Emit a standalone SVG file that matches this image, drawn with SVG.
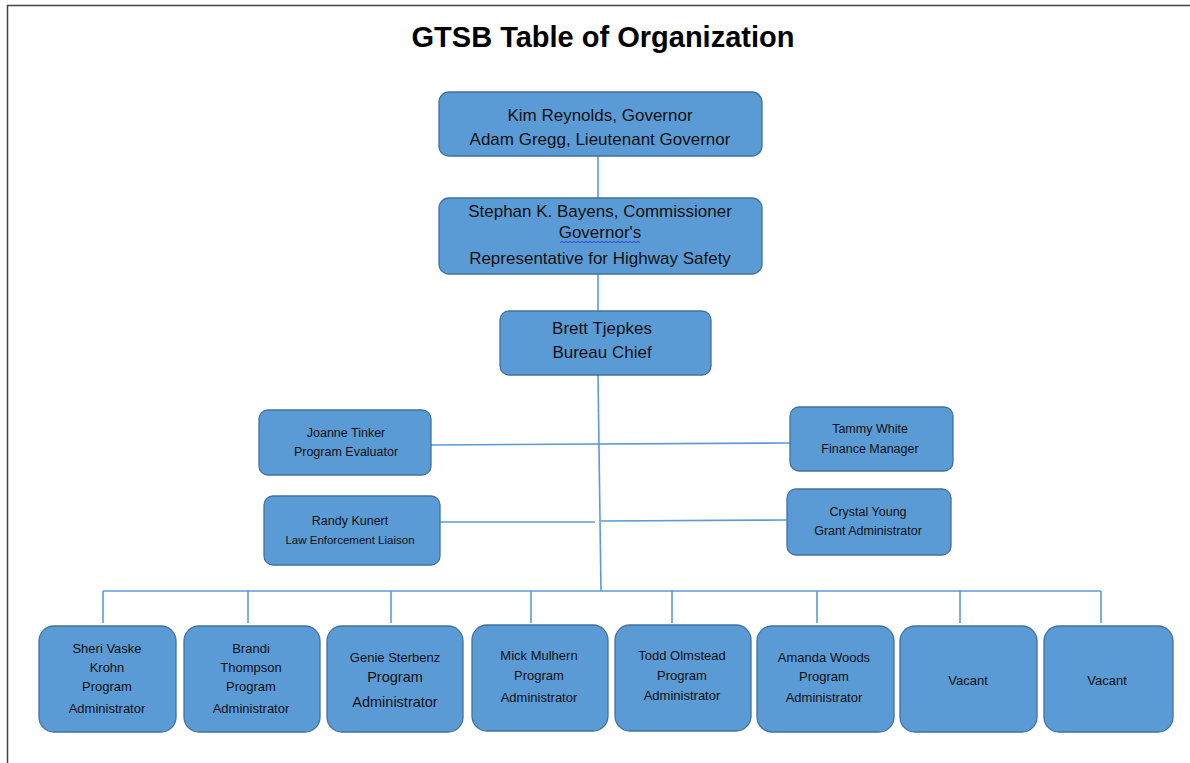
<svg xmlns="http://www.w3.org/2000/svg" width="1190" height="763" viewBox="0 0 1190 763">
<style>
.box{fill:#5b9bd5;stroke:#41719c;stroke-width:1.3}
.t{font-family:"Liberation Sans",Arial,sans-serif;fill:#111;text-anchor:middle}
.big{font-size:17px}
.mid{font-size:12.5px}
.sm{font-size:13px}
.c{stroke:#5b9bd5;stroke-width:1.6;fill:none}
</style>
<rect width="1190" height="763" fill="#fff"/>
<path d="M7.5 763 V5.5 H1190" fill="none" stroke="#444" stroke-width="1.5"/>
<text x="603" y="47" font-family="Liberation Sans,Arial,sans-serif" font-weight="bold" font-size="29" text-anchor="middle" fill="#000">GTSB Table of Organization</text>
<g id="connectors">
<line class="c" x1="598" y1="156" x2="598" y2="198"/>
<line class="c" x1="598" y1="274" x2="598" y2="311"/>
<line class="c" x1="598" y1="375" x2="601" y2="591"/>
<line class="c" x1="431" y1="445" x2="790" y2="443"/>
<line class="c" x1="440" y1="522" x2="595" y2="522"/>
<line class="c" x1="601" y1="521" x2="787" y2="520"/>
<line class="c" x1="103" y1="591" x2="1101" y2="591"/>
<line class="c" x1="103" y1="591" x2="103" y2="623"/>
<line class="c" x1="248" y1="591" x2="248" y2="623"/>
<line class="c" x1="391" y1="591" x2="391" y2="623"/>
<line class="c" x1="531" y1="591" x2="531" y2="623"/>
<line class="c" x1="672" y1="591" x2="672" y2="623"/>
<line class="c" x1="817" y1="591" x2="817" y2="623"/>
<line class="c" x1="960" y1="591" x2="960" y2="623"/>
<line class="c" x1="1101" y1="591" x2="1101" y2="623"/>
</g>
<g id="governor">
<rect class="box" x="439" y="92" width="323" height="64" rx="10"/>
<text class="t big" x="600" y="121">Kim Reynolds, Governor</text>
<text class="t big" x="600" y="145">Adam Gregg, Lieutenant Governor</text>
</g>
<g id="commissioner">
<rect class="box" x="439" y="198" width="323" height="76" rx="10"/>
<text class="t big" x="600" y="217">Stephan K. Bayens, Commissioner</text>
<text class="t big" x="600" y="238">Governor's</text>
<text class="t big" x="600" y="264">Representative for Highway Safety</text>
<path d="M560 243 l2 -2 l2 2 l2 -2 l2 2 l2 -2 l2 2 l2 -2 l2 2 l2 -2 l2 2 l2 -2 l2 2 l2 -2 l2 2 l2 -2 l2 2 l2 -2 l2 2 l2 -2 l2 2 l2 -2 l2 2 l2 -2 l2 2 l2 -2 l2 2 l2 -2 l2 2 l2 -2 l2 2 l2 -2 l2 2 l2 -2 l2 2 l2 -2 l2 2 l2 -2 l2 2 l2 -2 l2 2" fill="none" stroke="#3344dd" stroke-width="1"/>
</g>
<g id="bureau-chief">
<rect class="box" x="500" y="311" width="211" height="64" rx="9"/>
<text class="t big" x="602" y="334">Brett Tjepkes</text>
<text class="t big" x="602" y="358">Bureau Chief</text>
</g>
<g id="joanne">
<rect class="box" x="259" y="410" width="172" height="65" rx="9"/>
<text class="t mid" x="346" y="437">Joanne Tinker</text>
<text class="t mid" x="346" y="456">Program Evaluator</text>
</g>
<g id="tammy">
<rect class="box" x="790" y="407" width="163" height="64" rx="9"/>
<text class="t mid" x="870" y="433">Tammy White</text>
<text class="t mid" x="870" y="453">Finance Manager</text>
</g>
<g id="randy">
<rect class="box" x="264" y="496" width="176" height="69" rx="9"/>
<text class="t mid" x="350" y="525">Randy Kunert</text>
<text class="t" font-size="11.5" x="350" y="544">Law Enforcement Liaison</text>
</g>
<g id="crystal">
<rect class="box" x="787" y="489" width="164" height="66" rx="9"/>
<text class="t mid" x="868" y="516">Crystal Young</text>
<text class="t mid" x="868" y="535">Grant Administrator</text>
</g>
<g id="sheri">
<rect class="box" x="39" y="626" width="137" height="106" rx="15"/>
<text class="t sm" x="107" y="653">Sheri Vaske</text>
<text class="t sm" x="107" y="672">Krohn</text>
<text class="t sm" x="107" y="691">Program</text>
<text class="t sm" x="107" y="713">Administrator</text>
</g>
<g id="brandi">
<rect class="box" x="184" y="626" width="136" height="106" rx="15"/>
<text class="t sm" x="251" y="653">Brandi</text>
<text class="t sm" x="251" y="672">Thompson</text>
<text class="t sm" x="251" y="691">Program</text>
<text class="t sm" x="251" y="713">Administrator</text>
</g>
<g id="genie">
<rect class="box" x="327" y="626" width="136" height="106" rx="15"/>
<text class="t sm" x="395" y="662">Genie Sterbenz</text>
<text class="t" font-size="14.5" x="395" y="682">Program</text>
<text class="t" font-size="14.5" x="395" y="707">Administrator</text>
</g>
<g id="mick">
<rect class="box" x="472" y="625" width="136" height="106" rx="15"/>
<text class="t sm" x="539" y="660">Mick Mulhern</text>
<text class="t sm" x="539" y="680">Program</text>
<text class="t sm" x="539" y="702">Administrator</text>
</g>
<g id="todd">
<rect class="box" x="615" y="625" width="136" height="106" rx="15"/>
<text class="t sm" x="682" y="660">Todd Olmstead</text>
<text class="t sm" x="682" y="680">Program</text>
<text class="t sm" x="682" y="700">Administrator</text>
</g>
<g id="amanda">
<rect class="box" x="757" y="626" width="137" height="106" rx="15"/>
<text class="t sm" x="824" y="662">Amanda Woods</text>
<text class="t sm" x="824" y="681">Program</text>
<text class="t sm" x="824" y="702">Administrator</text>
</g>
<g id="vacant-1">
<rect class="box" x="900" y="626" width="137" height="106" rx="15"/>
<text class="t sm" x="968" y="685">Vacant</text>
</g>
<g id="vacant-2">
<rect class="box" x="1044" y="626" width="129" height="106" rx="15"/>
<text class="t sm" x="1107" y="685">Vacant</text>
</g>
</svg>
